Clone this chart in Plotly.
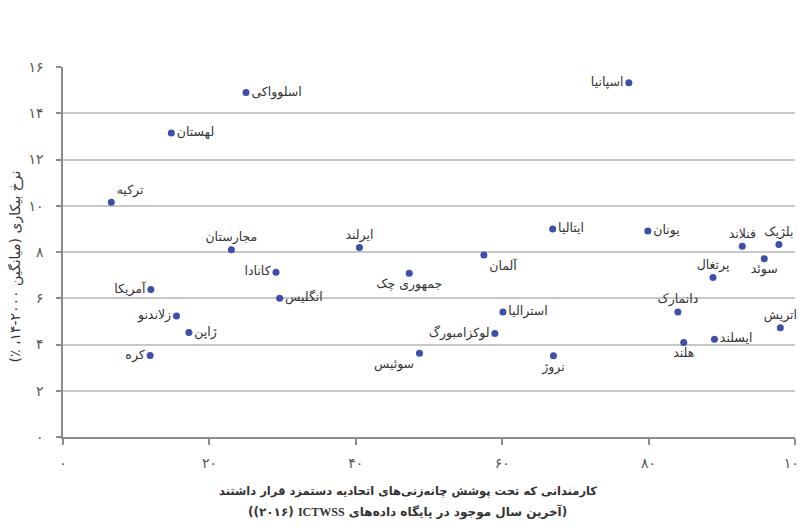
import plotly.graph_objects as go

# Data: union coverage (%) vs. unemployment rate (avg 2000-14, %)
countries = [
    "اسلوواکی", "لهستان", "ترکیه", "مجارستان", "ایرلند", "کانادا", "آمریکا",
    "انگلیس", "زلاندنو", "ژاپن", "کره", "جمهوری چک", "آلمان", "ایتالیا",
    "اسپانیا", "یونان", "فنلاند", "بلژیک", "سوئد", "پرتغال", "دانمارک",
    "اتریش", "ایسلند", "هلند", "استرالیا", "لوکزامبورگ", "نروژ", "سوئیس",
]
coverage = [
    25.0, 14.8, 6.6, 23.0, 40.5, 29.1, 12.0,
    29.6, 15.5, 17.2, 11.9, 47.3, 57.5, 66.9,
    77.3, 79.9, 92.8, 97.8, 95.8, 88.8, 84.0,
    98.0, 89.0, 84.8, 60.1, 59.0, 67.0, 48.7,
]
unemployment = [
    14.9, 13.15, 10.15, 8.1, 8.2, 7.12, 6.38,
    6.0, 5.23, 4.52, 3.52, 7.08, 7.87, 9.0,
    15.32, 8.91, 8.25, 8.32, 7.71, 6.9, 5.41,
    4.72, 4.23, 4.09, 5.41, 4.48, 3.51, 3.62,
]
label_pos = [
    "middle right", "middle right", "top right", "top center", "top center", "middle left", "middle left",
    "middle right", "middle left", "middle right", "middle left", "bottom center", "bottom right", "middle right",
    "middle left", "middle right", "top center", "top center", "bottom center", "top center", "top center",
    "top center", "middle right", "bottom center", "middle right", "middle left", "bottom center", "bottom left",
]

y_ticks = [0, 2, 4, 6, 8, 10, 12, 14, 16]
y_ticktext = ["۰", "۲", "۴", "۶", "۸", "۱۰", "۱۲", "۱۴", "۱۶"]
x_ticks = [0, 20, 40, 60, 80, 100]
x_ticktext = ["۰", "۲۰", "۴۰", "۶۰", "۸۰", "۱۰۰"]

# right-to-left embedding so brackets and numbers sit as in the original
RLE, PDF, RLM = "\u202b", "\u202c", "\u200f"
y_title = RLE + "نرخ بیکاری (میانگین ۲۰۰۰-۱۴، ٪)" + PDF
x_title_1 = RLE + "کارمندانی که تحت پوشش چانه‌زنی‌های اتحادیه دستمزد قرار داشتند" + PDF
x_title_2 = (RLE + "(آخرین سال موجود در پایگاه داده‌های "
             + "<span style='font-family:Liberation Serif'>ICTWSS</span>" + RLM + " (۲۰۱۶))" + PDF)

font_family = "DejaVu Sans"

fig = go.Figure()
fig.add_trace(go.Scatter(
    x=coverage, y=unemployment, text=countries,
    mode="markers+text", textposition=label_pos,
    marker=dict(color="#3d4fa8", size=7),
    textfont=dict(family=font_family, size=12.5, color="#333333"),
    cliponaxis=False, hoverinfo="text",
))

# figure kept 16px smaller than the window so the page body margin does not cause scrolling
fig.update_layout(
    width=801, height=514,
    margin=dict(l=55, r=14, t=59, b=85),
    paper_bgcolor="white", plot_bgcolor="white",
    showlegend=False,
    font=dict(family=font_family, color="#555555"),
    xaxis=dict(
        range=[0, 100], tickvals=x_ticks, ticktext=x_ticktext,
        showgrid=False, zeroline=False, automargin=False,
        showline=True, linecolor="#8c8c8c", linewidth=1.5,
        ticks="outside", ticklen=6, tickcolor="#8c8c8c", tickwidth=1.5,
        tickfont=dict(size=14, color="#555555"), ticklabelstandoff=6,
    ),
    yaxis=dict(
        range=[0, 16], tickvals=y_ticks, ticktext=y_ticktext,
        showgrid=True, gridcolor="#c8c8c8", gridwidth=1.5, zeroline=False, automargin=False,
        showline=True, linecolor="#8c8c8c", linewidth=1.5,
        ticks="outside", ticklen=5, tickcolor="#8c8c8c", tickwidth=1.5,
        tickfont=dict(size=14, color="#555555"), ticklabelstandoff=10,
    ),
)

# axis titles placed as annotations
fig.add_annotation(text=y_title, textangle=-90, xref="paper", yref="paper", x=-0.0649, y=0.462,
                   xanchor="center", yanchor="middle",
                   showarrow=False, font=dict(size=14, color="#333333"))
fig.add_annotation(text=x_title_1, xref="paper", yref="paper", x=0.471, y=-0.1486,
                   xanchor="center", yanchor="middle",
                   showarrow=False, font=dict(size=11.5, color="#333333", weight="bold"))
fig.add_annotation(text=x_title_2, xref="paper", yref="paper", x=0.471, y=-0.2027,
                   xanchor="center", yanchor="middle",
                   showarrow=False, font=dict(size=12, color="#333333", weight="bold"))

fig.write_html("out.html")
